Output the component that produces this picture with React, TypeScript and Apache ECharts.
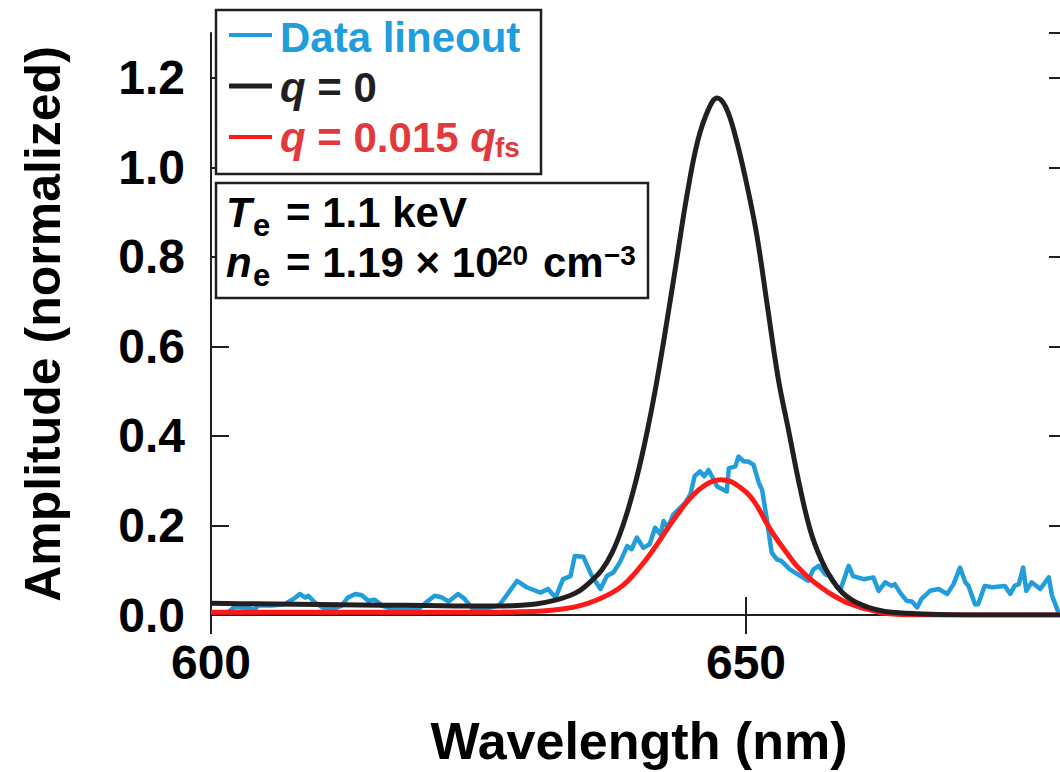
import { useEffect, useRef } from "react";
import * as echarts from "echarts";

// ---- Data ----
const dataWl = [
  601.5, 602.2, 603.2, 604.1, 604.4, 605.7, 606.9, 607.9, 608.3, 608.8, 609.1, 609.7, 610.4, 611.0, 611.6, 612.2,
  612.8, 613.5, 614.1, 614.7, 615.3, 616.0, 616.9, 618.1, 619.4, 620.3, 620.9, 621.6, 622.2, 623.1, 623.7, 624.4,
  625.3, 626.9, 627.6, 628.6, 629.5, 630.8, 631.5, 632.2, 632.9, 633.6, 634.0, 634.8, 635.6, 636.4, 637.0, 637.6,
  638.2, 638.9, 639.3, 639.8, 640.4, 641.0, 641.5, 642.0, 642.3, 642.7, 643.2, 643.7, 644.3, 644.8, 645.2, 645.7,
  646.1, 646.5, 646.9, 647.3, 648.2, 648.4, 649.0, 649.3, 649.8, 650.2, 650.7, 651.2, 651.5, 651.9, 652.4, 652.9,
  653.3, 654.1, 655.1, 655.8, 656.3, 656.8, 657.4, 657.9, 658.5, 658.9, 659.6, 660.0, 661.0, 661.9, 662.4, 663.0,
  663.6, 663.9, 664.4, 665.0, 665.5, 666.0, 666.4, 667.2, 668.0, 668.8, 669.4, 670.0, 670.5, 670.8, 671.4, 671.7,
  672.3, 673.0, 674.2, 674.7, 675.1, 675.5, 675.9, 676.2, 676.7, 677.5, 678.3, 678.6, 679.2,
];
const dataAmp = [
  0.004, 0.018, 0.016, 0.013, 0.021, 0.021, 0.024, 0.039, 0.047, 0.039, 0.043, 0.028, 0.017, 0.013, 0.015, 0.021,
  0.039, 0.047, 0.044, 0.032, 0.034, 0.021, 0.013, 0.012, 0.013, 0.032, 0.043, 0.039, 0.030, 0.047, 0.036, 0.015,
  0.013, 0.021, 0.043, 0.076, 0.062, 0.050, 0.058, 0.039, 0.080, 0.087, 0.132, 0.130, 0.087, 0.058, 0.087, 0.095,
  0.117, 0.154, 0.147, 0.173, 0.150, 0.158, 0.195, 0.180, 0.210, 0.195, 0.224, 0.236, 0.250, 0.269, 0.310, 0.321,
  0.310, 0.324, 0.306, 0.287, 0.276, 0.328, 0.332, 0.354, 0.343, 0.343, 0.336, 0.295, 0.280, 0.221, 0.139, 0.124,
  0.121, 0.102, 0.087, 0.076, 0.102, 0.110, 0.091, 0.087, 0.062, 0.062, 0.110, 0.087, 0.080, 0.084, 0.054, 0.073,
  0.065, 0.069, 0.050, 0.032, 0.030, 0.017, 0.036, 0.054, 0.058, 0.047, 0.069, 0.106, 0.073, 0.065, 0.024, 0.024,
  0.065, 0.062, 0.065, 0.047, 0.065, 0.069, 0.106, 0.054, 0.073, 0.058, 0.084, 0.043, 0.006,
];

const q0Wl = [
  600, 604, 608, 612, 616, 620, 624, 627, 629, 630.5, 632, 633.5, 634.5, 635.5, 636.5, 637.5, 638.5, 639.5, 640.5,
  641.5, 642.5, 643.5, 644.5, 645.5, 646.5, 647.3, 648.1, 649.0, 650.0, 651.0, 652.0, 653.0, 654.0, 655.0, 656.0,
  657.0, 658.0, 659.0, 660.0, 661.0, 662.0, 663.0, 665.0, 668.0, 672.0, 680.0,
];
const q0Amp = [
  0.026, 0.025, 0.024, 0.023, 0.022, 0.021, 0.020, 0.020, 0.022, 0.025, 0.032, 0.043, 0.055, 0.075, 0.100, 0.140,
  0.200, 0.280, 0.380, 0.500, 0.640, 0.790, 0.940, 1.060, 1.130, 1.155, 1.135, 1.070, 0.970, 0.850, 0.690, 0.530,
  0.410, 0.290, 0.190, 0.125, 0.080, 0.050, 0.032, 0.021, 0.013, 0.008, 0.004, 0.001, 0.0, 0.0,
];

const qfsWl = [
  600, 610, 620, 626, 629, 631, 633, 634.5, 636, 637.5, 638.5, 639.5, 640.7, 641.6, 642.6, 643.6, 644.6, 645.6,
  646.6, 647.6, 648.6, 649.5, 650.4, 651.2, 651.9, 652.8, 653.8, 654.7, 655.7, 657.0, 658.2, 659.7, 661.3, 662.5,
  663.7, 666.0, 680.0,
];
const qfsAmp = [
  0.006, 0.006, 0.006, 0.006, 0.007, 0.009, 0.014, 0.021, 0.033, 0.050, 0.066, 0.090, 0.125, 0.155, 0.191, 0.225,
  0.256, 0.280, 0.296, 0.302, 0.298, 0.284, 0.265, 0.237, 0.206, 0.172, 0.139, 0.111, 0.087, 0.062, 0.043, 0.025,
  0.013, 0.006, 0.002, 0.0, 0.0,
];

const seriesNames = ["Data lineout", "q = 0", "q = 0.015 q_fs"];
const xRange = [600, 680];
const xStep = 50;
const yRange = [0, 1.3];
const yStep = 0.2;

const INK = "#231f20";
const BLUE = "#219ddb";
const RED_LINE = "#ff1a1a";
const RED_TEXT = "#e4393c";
const FONT = '"Liberation Sans", Arial, Helvetica, sans-serif';
const MAIN_SIZE = 42;

const pair = (xs: number[], ys: number[]) => xs.map((x, i) => [x, ys[i]]);

export default function App() {
  const ref = useRef<HTMLDivElement>(null);
  useEffect(() => {
    const chart = echarts.init(ref.current!, null, { renderer: "svg" });
    const axisLine = { show: true, lineStyle: { color: INK, width: 2 } };
    const tickIn = (len: number) => ({ show: true, inside: true, length: len, lineStyle: { color: INK, width: 2 } });
    const sub = (text: string, x: number, y: number, size: number, fill: string) => ({
      type: "text",
      x,
      y,
      z: 101,
      style: { text, fill, fontFamily: FONT, fontWeight: "bold", fontSize: size, verticalAlign: "middle", align: "left" },
    });
    const rich = (fill: string) => ({
      i: { fontStyle: "italic", fontWeight: "bold", fontSize: MAIN_SIZE, fontFamily: FONT, fill },
    });
    const main = (text: string, x: number, y: number, fill: string) => ({
      type: "text",
      x,
      y,
      z: 101,
      style: {
        text,
        fill,
        fontFamily: FONT,
        fontWeight: "bold",
        fontSize: MAIN_SIZE,
        verticalAlign: "middle",
        align: "left",
        rich: rich(fill),
      },
    });
    const legLine = (y: number, color: string, w: number) => ({
      type: "line",
      z: 101,
      shape: { x1: 229, y1: y, x2: 272, y2: y },
      style: { stroke: color, lineWidth: w },
    });

    chart.setOption({
      animation: false,
      backgroundColor: "#ffffff",
      grid: { left: 211, top: 33, right: 13, bottom: 156, containLabel: false },
      xAxis: [
        {
          type: "value",
          min: xRange[0],
          max: xRange[1],
          interval: xStep,
          position: "bottom",
          axisLine,
          axisTick: tickIn(18),
          splitLine: { show: false },
          axisLabel: {
            show: true,
            showMaxLabel: false,
            margin: 23,
            color: "#000",
            fontFamily: FONT,
            fontWeight: "bold",
            fontSize: 48,
          },
          name: "Wavelength (nm)",
          nameLocation: "middle",
          nameGap: 100,
          nameTextStyle: { color: "#000", fontFamily: FONT, fontWeight: "bold", fontSize: 52 },
        },
        {
          type: "value",
          min: xRange[0],
          max: xRange[1],
          interval: xStep,
          position: "top",
          axisLine,
          axisTick: tickIn(19),
          splitLine: { show: false },
          axisLabel: { show: false },
        },
      ],
      yAxis: [
        {
          type: "value",
          min: yRange[0],
          max: yRange[1],
          interval: yStep,
          position: "left",
          axisLine,
          axisTick: tickIn(18),
          splitLine: { show: false },
          axisLabel: {
            show: true,
            showMaxLabel: false,
            margin: 26,
            color: "#000",
            fontFamily: FONT,
            fontWeight: "bold",
            fontSize: 48,
            formatter: (v: number) => v.toFixed(1),
          },
          name: "Amplitude (normalized)",
          nameLocation: "middle",
          nameGap: 143,
          nameTextStyle: { color: "#000", fontFamily: FONT, fontWeight: "bold", fontSize: 50 },
        },
        {
          type: "value",
          min: yRange[0],
          max: yRange[1],
          interval: yStep,
          position: "right",
          axisLine,
          axisTick: tickIn(18),
          splitLine: { show: false },
          axisLabel: { show: false },
        },
      ],
      series: [
        {
          name: seriesNames[0],
          type: "line",
          data: pair(dataWl, dataAmp),
          showSymbol: false,
          lineStyle: { color: BLUE, width: 4.5, join: "round" },
          z: 2,
        },
        {
          name: seriesNames[2],
          type: "line",
          data: pair(qfsWl, qfsAmp),
          showSymbol: false,
          smooth: 0.4,
          lineStyle: { color: RED_LINE, width: 5 },
          z: 3,
        },
        {
          name: seriesNames[1],
          type: "line",
          data: pair(q0Wl, q0Amp),
          showSymbol: false,
          smooth: 0.4,
          lineStyle: { color: INK, width: 5 },
          z: 4,
        },
      ],
      graphic: [
        {
          type: "rect",
          z: 100,
          shape: { x: 216, y: 10, width: 325, height: 164 },
          style: { fill: "#fff", stroke: INK, lineWidth: 2.5 },
        },
        legLine(35, BLUE, 4),
        legLine(86, INK, 5),
        legLine(137, RED_LINE, 4),
        main("Data lineout", 280, 37.5, BLUE),
        main("{i|q} = 0", 280, 87.5, INK),
        main("{i|q} = 0.015 {i|q}", 280, 137.5, RED_TEXT),
        sub("fs", 495, 147, 28, RED_TEXT),
        {
          type: "rect",
          z: 100,
          shape: { x: 216, y: 183, width: 432, height: 115 },
          style: { fill: "#fff", stroke: INK, lineWidth: 2.5 },
        },
        main("{i|T}", 226, 212.5, "#000"),
        sub("e", 253, 225, 31, "#000"),
        main("= 1.1 keV", 286, 212.5, "#000"),
        main("{i|n}", 226, 262.5, "#000"),
        sub("e", 253, 275, 31, "#000"),
        main("= 1.19 \u00d7 10", 286, 262.5, "#000"),
        sub("20", 497, 255, 28, "#000"),
        main("cm", 543, 262.5, "#000"),
        sub("\u22123", 604, 255, 28, "#000"),
      ],
    });
    return () => chart.dispose();
  }, []);
  return (
    <div
      style={{
        position: "fixed",
        left: 0,
        top: 0,
        width: 1060,
        height: 772,
        overflow: "hidden",
        background: "#fff",
      }}
    >
      <div ref={ref} style={{ width: 1080, height: 772 }} />
    </div>
  );
}
